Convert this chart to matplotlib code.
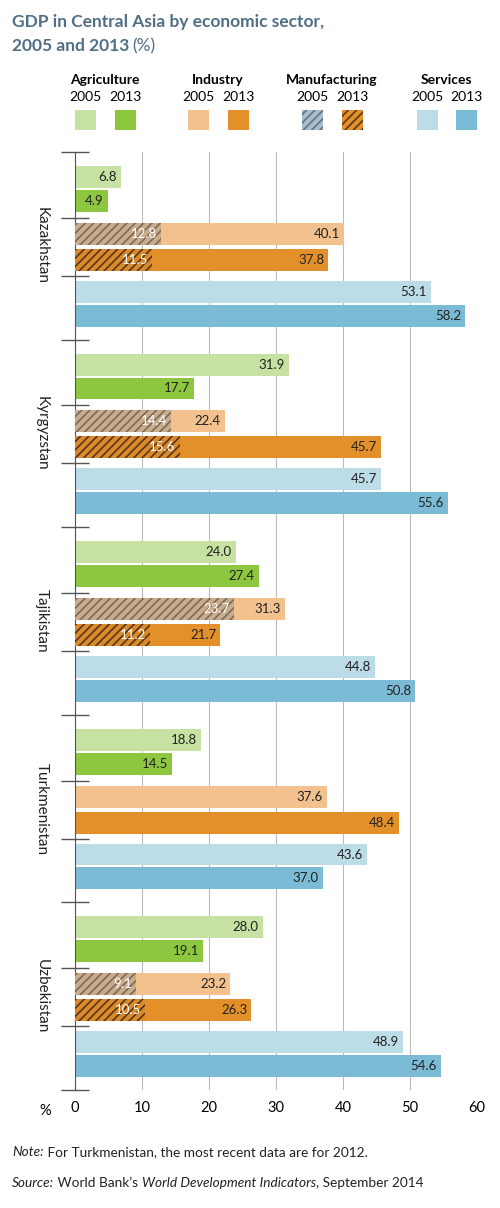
import matplotlib
matplotlib.use("Agg")
import matplotlib.pyplot as plt
from matplotlib.patches import Rectangle

plt.rcParams["font.family"] = ["Lato", "DejaVu Sans"]
plt.rcParams["hatch.linewidth"] = 1.2

countries = ["Kazakhstan", "Kyrgyzstan", "Tajikistan", "Turkmenistan", "Uzbekistan"]
agri_2005 = [6.8, 31.9, 24.0, 18.8, 28.0]
agri_2013 = [4.9, 17.7, 27.4, 14.5, 19.1]
ind_2005 = [40.1, 22.4, 31.3, 37.6, 23.2]
ind_2013 = [37.8, 45.7, 21.7, 48.4, 26.3]
manu_2005 = [12.8, 14.4, 23.7, None, 9.1]
manu_2013 = [11.5, 15.6, 11.2, None, 10.5]
serv_2005 = [53.1, 45.7, 44.8, 43.6, 48.9]
serv_2013 = [58.2, 55.6, 50.8, 37.0, 54.6]
x_ticks = [0, 10, 20, 30, 40, 50, 60]

C_AG05, C_AG13 = "#c6e1a1", "#8dc63f"
C_IN05, C_IN13 = "#f2c18d", "#e4902a"
C_SV05, C_SV13 = "#bcdce8", "#7bbbd6"
C_TITLE = "#4f6f86"
W, H = 500, 1208

fig = plt.figure(figsize=(W / 100, H / 100), dpi=100)
ax = fig.add_axes([75 / W, 1 - 1090 / H, 402 / W, (1090 - 152) / H])

BLOCK = 188
offsets = [25, 49, 82, 108, 140, 164]
bh = 22

for i, c in enumerate(countries):
    top = i * BLOCK
    series = [(agri_2005[i], C_AG05), (agri_2013[i], C_AG13),
              (ind_2005[i], C_IN05), (ind_2013[i], C_IN13),
              (serv_2005[i], C_SV05), (serv_2013[i], C_SV13)]
    for (v, col), off in zip(series, offsets):
        y = top + off
        ax.barh(y, v, height=bh, color=col, zorder=2)
        ax.text(v - 0.6, y, f"{v:.1f}", ha="right", va="center", fontsize=9.5, color="#222222", zorder=4)
    for v, off, face, hc in [(manu_2005[i], offsets[2], "#c9ac8c", "#7d6a58"),
                             (manu_2013[i], offsets[3], "#d98a2c", "#5a3510")]:
        if v is None:
            continue
        y = top + off
        ax.barh(y, v, height=bh, color=face, edgecolor=hc, hatch="////", linewidth=0, zorder=3)
        ax.text(v - 0.6, y, f"{v:.1f}", ha="right", va="center", fontsize=9.5, color="white", zorder=4)
    ax.text(-5.0, top + BLOCK / 2, c, rotation=270, ha="center", va="center", fontsize=11, color="#222222")

ymajor = []
for i in range(len(countries)):
    ymajor += [i * BLOCK, i * BLOCK + 66, i * BLOCK + 124]
ymajor.append(len(countries) * BLOCK)

ax.set_xlim(0, 60)
ax.set_ylim(len(countries) * BLOCK, 0)
ax.set_xticks(x_ticks)
ax.set_yticks(ymajor)
ax.set_yticklabels([])
ax.tick_params(axis="y", direction="inout", length=20, color="#555555", width=1)
ax.tick_params(axis="x", length=0, labelsize=10.5, pad=8)
ax.grid(axis="x", color="#bbbbbb", linewidth=0.8, zorder=0)
for s in ["top", "right", "bottom"]:
    ax.spines[s].set_visible(False)
ax.spines["left"].set_color("#555555")
ax.text(-4.5, len(countries) * BLOCK + 14, "%", ha="center", va="top", fontsize=10.5)


def fx(px):
    return px / W


def fy(py):
    return 1 - py / H


# title
fig.text(fx(12), fy(22), "GDP in Central Asia by economic sector,", fontsize=12.5,
         fontweight="bold", color=C_TITLE, va="center")
t2 = fig.text(fx(12), fy(46), "2005 and 2013", fontsize=12.5, fontweight="bold",
              color=C_TITLE, va="center")
fig.canvas.draw()
bb = t2.get_window_extent()
fig.text(bb.x1 / W + 0.006, fy(46), "(%)", fontsize=12.5, color=C_TITLE, va="center")

# legend
legend = [("Agriculture", 85, 125, C_AG05, C_AG13, None),
          ("Industry", 198, 238, C_IN05, C_IN13, None),
          ("Manufacturing", 312, 352, "#a9bccb", C_IN13, ("#5f7487", "#5a3510")),
          ("Services", 427, 466, C_SV05, C_SV13, None)]
for name, x1, x2, c1, c2, hatch in legend:
    fig.text(fx((x1 + x2) / 2), fy(80), name, fontsize=10, fontweight="bold", ha="center", va="center")
    for xc, col, yr, k in [(x1, c1, "2005", 0), (x2, c2, "2013", 1)]:
        fig.text(fx(xc), fy(97), yr, fontsize=10, ha="center", va="center")
        kw = dict(facecolor=col, linewidth=0)
        if hatch:
            kw.update(hatch="////", edgecolor=hatch[k])
        fig.patches.append(Rectangle((fx(xc - 10.5), fy(130)), 21 / W, 20 / H,
                                     transform=fig.transFigure, **kw))

# notes
def line(parts, py):
    x = 12 / W
    for s, style in parts:
        t = fig.text(x, fy(py), s, fontsize=9.8, style=style, va="center", color="#222222")
        fig.canvas.draw()
        x = t.get_window_extent().x1 / W


line([("Note:", "italic"), (" For Turkmenistan, the most recent data are for 2012.", "normal")], 1152)
line([("Source:", "italic"), (" World Bank\u2019s ", "normal"),
      ("World Development Indicators", "italic"), (", September 2014", "normal")], 1183)

fig.savefig("out.png", dpi=100)
